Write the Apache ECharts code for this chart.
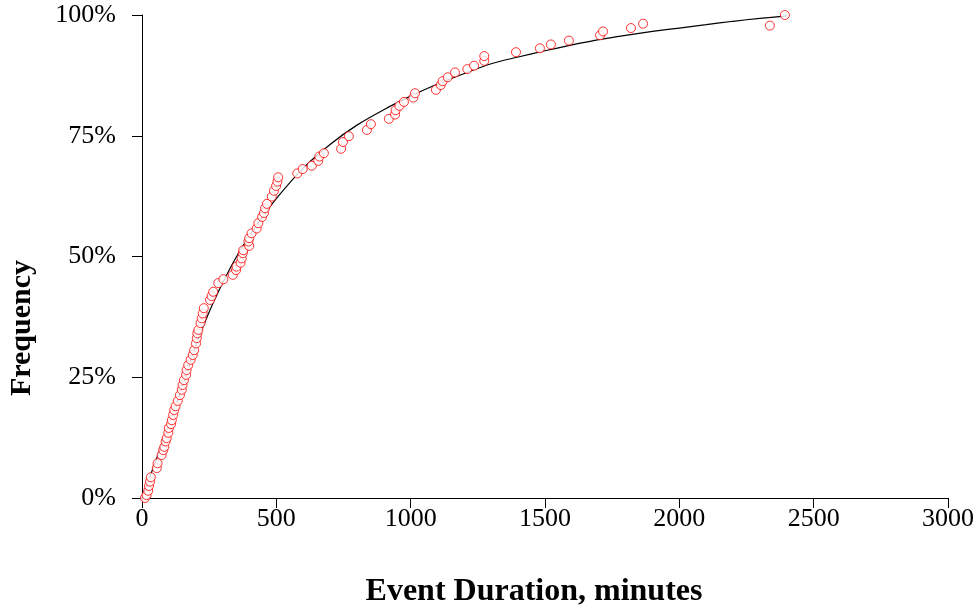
<!DOCTYPE html>
<html>
<head>
<meta charset="utf-8">
<script src="https://cdn.jsdelivr.net/npm/echarts@6/dist/echarts.min.js"></script>
<style>
  html, body { margin: 0; padding: 0; background: #fff; }
  #chart { width: 977px; height: 612px; }
</style>
</head>
<body>
<div id="chart"></div>
<script>
// observed event durations (minutes) and their plotted frequency (%)
const durations = [11, 17, 23, 26, 30, 33, 55, 58, 73, 79, 83, 88, 92, 98, 100, 108, 111, 116, 120, 125,
  133, 141, 148, 151, 156, 164, 166, 172, 181, 189, 194, 201, 204, 206, 210, 218, 222, 226, 230, 253,
  259, 265, 284, 303, 338, 350, 352, 367, 371, 375, 377, 399, 396, 399, 408, 427, 433, 447, 454, 458,
  465, 483, 491, 499, 504, 507, 578, 598, 632, 656, 660, 677, 741, 748, 770, 837, 852, 919, 942, 944,
  958, 975, 1010, 1016, 1094, 1112, 1119, 1138, 1165, 1211, 1236, 1274, 1274, 1392, 1481, 1522, 1589, 1705, 1716, 1820,
  1865, 2337, 2393];
const frequency = [0, 0.6, 1.5, 2.5, 3.4, 4.3, 6.2, 7.2, 8.9, 9.9, 10.6, 11.7, 12.4, 13.5, 14.5, 15.3, 16.1, 17.2, 18.2, 19.0,
  20.1, 21.3, 22.4, 23.4, 24.4, 25.5, 26.5, 27.5, 28.6, 29.6, 30.6, 32.0, 33.1, 34.1, 34.8, 36.2, 37.2, 38.2, 39.3, 41.0,
  41.8, 42.7, 44.5, 45.3, 46.2, 47.2, 47.9, 48.7, 49.6, 50.7, 51.3, 52.2, 53.1, 53.8, 54.8, 55.8, 56.9, 58.2, 59.0, 60.0,
  60.9, 62.4, 63.6, 64.6, 65.5, 66.4, 67.2, 68.1, 68.8, 69.8, 70.7, 71.4, 72.3, 73.7, 74.9, 76.2, 77.4, 78.5, 79.4, 80.3,
  81.2, 82.0, 82.9, 83.8, 84.5, 85.5, 86.3, 87.1, 88.1, 88.8, 89.5, 90.5, 91.5, 92.3, 93.1, 93.9, 94.7, 95.8, 96.6, 97.3,
  98.2, 97.8, 100];

// fitted curve
const fitX = [0, 50, 100, 150, 200, 250, 300, 350, 400, 450, 500, 600, 700, 800, 900, 1000, 1100, 1200, 1300, 1400,
  1500, 1600, 1700, 1800, 1900, 2000, 2100, 2200, 2300, 2400];
const fitY = [0, 7.5, 15, 23, 31.5, 38.5, 44.5, 49.8, 54.3, 58.3, 62, 68.3, 73.2, 77.2, 80.4, 83.2, 85.7, 87.9, 89.9, 91.3,
  92.6, 93.8, 94.9, 95.8, 96.6, 97.3, 98, 98.7, 99.3, 99.8];

const xTicks = [0, 500, 1000, 1500, 2000, 2500, 3000];
const yTicks = [0, 25, 50, 75, 100];

const font = '"Liberation Serif", "Times New Roman", serif';
const chart = echarts.init(document.getElementById('chart'));

const option = {
  animation: false,
  backgroundColor: '#fff',
  grid: { left: 142, right: 29, top: 15, bottom: 114, containLabel: false },
  xAxis: {
    type: 'value',
    min: xTicks[0],
    max: xTicks[xTicks.length - 1],
    interval: xTicks[1] - xTicks[0],
    axisLine: { onZero: false, lineStyle: { color: '#000', width: 1 } },
    axisTick: { show: true, inside: false, length: 10, lineStyle: { color: '#000' } },
    axisLabel: { margin: 8, fontFamily: font, fontSize: 26, color: '#000', formatter: v => String(v) },
    splitLine: { show: false }
  },
  yAxis: {
    type: 'value',
    min: yTicks[0],
    max: yTicks[yTicks.length - 1],
    interval: yTicks[1] - yTicks[0],
    axisLine: { show: true, onZero: false, lineStyle: { color: '#000', width: 1 } },
    axisTick: { show: true, inside: false, length: 10, lineStyle: { color: '#000' } },
    axisLabel: { margin: 26, fontFamily: font, fontSize: 26, color: '#000', formatter: v => v + '%' },
    splitLine: { show: false }
  },
  graphic: [
    {
      type: 'text',
      x: 534, y: 592,
      style: {
        text: 'Event Duration, minutes',
        font: 'bold 32px ' + font,
        fill: '#000',
        align: 'center',
        verticalAlign: 'middle'
      }
    },
    {
      type: 'text',
      x: 22, y: 328,
      rotation: Math.PI / 2,
      style: {
        text: 'Frequency',
        font: 'bold 30px ' + font,
        fill: '#000',
        align: 'center',
        verticalAlign: 'middle'
      }
    }
  ],
  series: [
    {
      type: 'line',
      data: fitX.map((x, i) => [x, fitY[i]]),
      smooth: 0.3,
      showSymbol: false,
      lineStyle: { color: '#000', width: 1.2 },
      z: 2
    },
    {
      type: 'scatter',
      data: durations.map((x, i) => [x, frequency[i]]),
      symbol: 'circle',
      symbolSize: 9,
      itemStyle: { color: '#fff', borderColor: '#ff0000', borderWidth: 1 },
      z: 3
    }
  ]
};

chart.setOption(option);
</script>
</body>
</html>
